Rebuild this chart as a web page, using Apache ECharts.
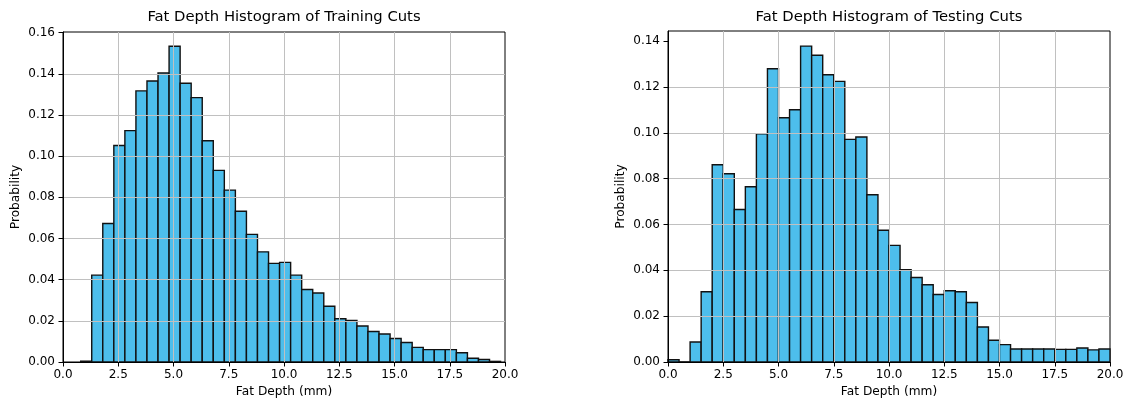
<!DOCTYPE html>
<html>
<head>
<meta charset="utf-8">
<script src="https://cdn.jsdelivr.net/npm/echarts@6/dist/echarts.min.js"></script>
<style>
  html, body { margin: 0; padding: 0; background: #fff; }
  #chart { width: 1127px; height: 400px; }
</style>
</head>
<body>
<div id="chart"></div>
<script>
// bins are 0.5 mm wide
const binWidth = 0.5;

const trainStart = 0.8;
const trainProb = [
  0.0004, 0.0422, 0.0673, 0.1052, 0.1124, 0.1317, 0.1365, 0.1404, 0.1534, 0.1354,
  0.1284, 0.1075, 0.0931, 0.0835, 0.0732, 0.0620, 0.0535, 0.0479, 0.0484, 0.0422,
  0.0352, 0.0335, 0.0271, 0.0210, 0.0202, 0.0175, 0.0148, 0.0136, 0.0114, 0.0095,
  0.0071, 0.0060, 0.0060, 0.0060, 0.0045, 0.0018, 0.0012, 0.0003
];

const testStart = 0.0;
const testProb = [
  0.0010, 0.0000, 0.0087, 0.0307, 0.0861, 0.0822, 0.0666, 0.0765, 0.0996, 0.1280,
  0.1066, 0.1101, 0.1379, 0.1339, 0.1254, 0.1225, 0.0972, 0.0982, 0.0730, 0.0575,
  0.0509, 0.0403, 0.0369, 0.0337, 0.0295, 0.0311, 0.0307, 0.0260, 0.0153, 0.0095,
  0.0076, 0.0057, 0.0057, 0.0057, 0.0057, 0.0055, 0.0055, 0.0061, 0.0053, 0.0057
];

const xTicks = [0, 2.5, 5, 7.5, 10, 12.5, 15, 17.5, 20];
const yTicksTrain = [0, 0.02, 0.04, 0.06, 0.08, 0.10, 0.12, 0.14, 0.16];
const yTicksTest = [0, 0.02, 0.04, 0.06, 0.08, 0.10, 0.12, 0.14];

const font = 'DejaVu Sans';
const barColor = '#4dbeec';

const toBins = (start, probs)=>{
  return probs.map((p, i)=>[start + i * binWidth, start + (i + 1) * binWidth, p]);
};

const renderBin = (params, api)=>{
  const p0 = api.coord([api.value(0), api.value(2)]);
  const p1 = api.coord([api.value(1), 0]);
  return {
    type: 'rect',
    shape: { x: p0[0], y: p0[1], width: p1[0] - p0[0], height: p1[1] - p0[1] },
    style: { fill: barColor, stroke: '#111', lineWidth: 1.4 }
  };
};

const makeX = (idx)=>({
  type: 'value',
  gridIndex: idx,
  min: 0,
  max: 20,
  interval: 2.5,
  z: 5,
  name: 'Fat Depth (mm)',
  nameLocation: 'middle',
  nameGap: 24,
  nameTextStyle: { fontFamily: font, fontSize: 12.2, color: '#000' },
  axisLine: { show: true, lineStyle: { color: '#000', width: 1 } },
  axisTick: { show: true, length: 4.5, customValues: xTicks, lineStyle: { color: '#000' } },
  axisLabel: {
    fontFamily: font, fontSize: 12, color: '#000', margin: 7,
    customValues: xTicks,
    formatter: (v)=>v.toFixed(1)
  },
  splitLine: { show: true, showMinLine: false, showMaxLine: false, lineStyle: { color: '#c0c0c0', width: 1 } }
});

const makeY = (idx, max, ticks)=>({
  type: 'value',
  gridIndex: idx,
  min: 0,
  max: max,
  z: 5,
  name: 'Probability',
  nameLocation: 'middle',
  nameGap: 41,
  nameTextStyle: { fontFamily: font, fontSize: 12.2, color: '#000' },
  axisLine: { show: true, lineStyle: { color: '#000', width: 1 } },
  axisTick: { show: true, length: 4.5, customValues: ticks, lineStyle: { color: '#000' } },
  axisLabel: {
    fontFamily: font, fontSize: 12, color: '#000', margin: 8,
    customValues: ticks,
    formatter: (v)=>v.toFixed(2)
  },
  splitLine: { show: true, showMinLine: false, showMaxLine: false, lineStyle: { color: '#c0c0c0', width: 1 } }
});

const chart = echarts.init(document.getElementById('chart'));

const option = {
  backgroundColor: '#fff',
  animation: false,
  title: [
    {
      text: 'Fat Depth Histogram of Training Cuts',
      left: 284, top: 10, padding: 0, textAlign: 'center',
      textStyle: { fontFamily: font, fontSize: 14.8, fontWeight: 'normal', color: '#000' }
    },
    {
      text: 'Fat Depth Histogram of Testing Cuts',
      left: 889, top: 10, padding: 0, textAlign: 'center',
      textStyle: { fontFamily: font, fontSize: 14.8, fontWeight: 'normal', color: '#000' }
    }
  ],
  grid: [
    { left: 63, top: 32, width: 442, height: 330, outerBoundsMode: 'none', show: true, borderColor: '#000', borderWidth: 1, backgroundColor: 'transparent' },
    { left: 668, top: 31, width: 442, height: 331, outerBoundsMode: 'none', show: true, borderColor: '#000', borderWidth: 1, backgroundColor: 'transparent' }
  ],
  xAxis: [makeX(0), makeX(1)],
  yAxis: [makeY(0, 0.1603, yTicksTrain), makeY(1, 0.1445, yTicksTest)],
  series: [
    {
      type: 'custom',
      xAxisIndex: 0, yAxisIndex: 0,
      renderItem: renderBin,
      encode: { x: [0, 1], y: 2 },
      data: toBins(trainStart, trainProb)
    },
    {
      type: 'custom',
      xAxisIndex: 1, yAxisIndex: 1,
      renderItem: renderBin,
      encode: { x: [0, 1], y: 2 },
      data: toBins(testStart, testProb)
    }
  ]
};

chart.setOption(option);
</script>
</body>
</html>
